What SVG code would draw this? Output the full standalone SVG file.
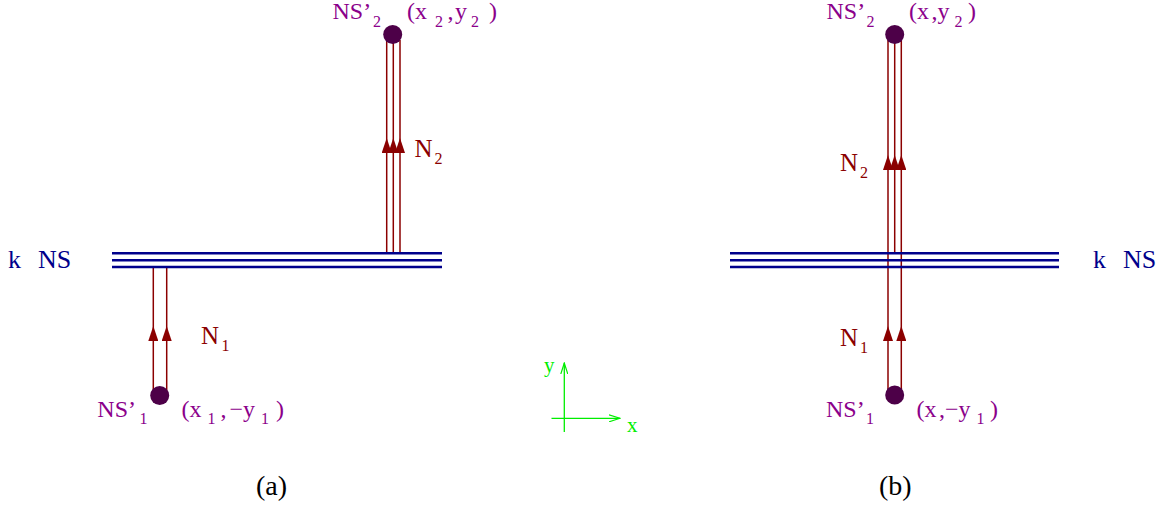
<svg xmlns="http://www.w3.org/2000/svg" width="1167" height="505" viewBox="0 0 1167 505">
<style>
text{font-family:"Liberation Serif","Times New Roman",serif;}
.blue{stroke:#00008b;stroke-width:2.6;fill:none;}
.bt{fill:#00008b;font-size:26px;}
.red{stroke:#8b0000;stroke-width:1.5;fill:none;}
.rt{fill:#8b0000;font-size:25px;}
.pt{fill:#8b008b;font-size:24px;}
.sub{font-size:16px;}
.dot{fill:#4d0048;}
.grn{stroke:#00ee00;stroke-width:1.3;fill:none;}
.gt{fill:#00ee00;font-size:21px;}
.cap{fill:#000;font-size:28px;}
</style>
<defs>
<marker id="ah" markerUnits="userSpaceOnUse" markerWidth="15" markerHeight="10" refX="15" refY="5" orient="auto">
<path d="M0,0 L15,5 L0,10 z" fill="#8b0000"/>
</marker>
<marker id="oa" markerUnits="userSpaceOnUse" markerWidth="12" markerHeight="8" refX="11" refY="4" orient="auto">
<path d="M0,0.5 L11,4 L0,7.5" fill="none" stroke="#00ee00" stroke-width="1.2"/>
</marker>
</defs>

<g id="connectors">
<polyline class="red" points="386.7,253 386.7,138 386.7,40" marker-mid="url(#ah)"/>
<polyline class="red" points="393.3,253 393.3,138 393.3,40" marker-mid="url(#ah)"/>
<polyline class="red" points="400,253 400,138 400,40" marker-mid="url(#ah)"/>
<polyline class="red" points="153.3,392 153.3,326 153.3,267" marker-mid="url(#ah)"/>
<polyline class="red" points="166.7,392 166.7,326 166.7,267" marker-mid="url(#ah)"/>
<polyline class="red" points="888,392 888,326 888,155 888,40" marker-mid="url(#ah)"/>
<polyline class="red" points="894.7,253 894.7,155 894.7,40" marker-mid="url(#ah)"/>
<polyline class="red" points="901.3,392 901.3,326 901.3,155 901.3,40" marker-mid="url(#ah)"/>
</g>

<g id="kns-a">
<line class="blue" x1="112" y1="253.3" x2="442" y2="253.3"/>
<line class="blue" x1="112" y1="260.2" x2="442" y2="260.2"/>
<line class="blue" x1="112" y1="267" x2="442" y2="267"/>
<text class="bt" x="8" y="268">k</text>
<text class="bt" x="38" y="268">NS</text>
</g>

<g id="kns-b">
<line class="blue" x1="730" y1="253.3" x2="1059" y2="253.3"/>
<line class="blue" x1="730" y1="260.2" x2="1059" y2="260.2"/>
<line class="blue" x1="730" y1="267" x2="1059" y2="267"/>
<text class="bt" x="1093" y="268">k</text>
<text class="bt" x="1123" y="268">NS</text>
</g>

<g id="ns2-a">
<circle class="dot" cx="392.7" cy="34.5" r="9.5"/>
<text class="pt" x="332.5" y="19">NS’<tspan class="sub" x="373" y="27">2</tspan></text>
<text class="pt" y="19"><tspan x="407">(x</tspan><tspan class="sub" x="435" y="27">2</tspan><tspan x="447.5" y="19">,</tspan><tspan x="455">y</tspan><tspan class="sub" x="471" y="27">2</tspan><tspan x="489" y="19">)</tspan></text>
</g>

<g id="n2-a-label">
<text class="rt" x="414.5" y="157">N<tspan class="sub" x="434.5" y="164">2</tspan></text>
</g>

<g id="ns1-a">
<circle class="dot" cx="159.7" cy="395.5" r="9.5"/>
<text class="pt" x="97.3" y="417">NS’<tspan class="sub" x="139.5" y="424">1</tspan></text>
<text class="pt" y="417"><tspan x="181.5">(x</tspan><tspan class="sub" x="207.5" y="424">1</tspan><tspan x="220.5" y="417">,</tspan><tspan x="229.5">−y</tspan><tspan class="sub" x="261" y="424">1</tspan><tspan x="276" y="417">)</tspan></text>
</g>

<g id="n1-a-label">
<text class="rt" x="201" y="344">N<tspan class="sub" x="221.5" y="351">1</tspan></text>
</g>

<g id="ns2-b">
<circle class="dot" cx="894.7" cy="34.5" r="9.5"/>
<text class="pt" x="826.5" y="19">NS’<tspan class="sub" x="866.5" y="27">2</tspan></text>
<text class="pt" y="19"><tspan x="909">(x</tspan><tspan x="931.5">,y</tspan><tspan class="sub" x="954.5" y="27">2</tspan><tspan x="968" y="19">)</tspan></text>
</g>

<g id="n2-b-label">
<text class="rt" x="840" y="171">N<tspan class="sub" x="860" y="178">2</tspan></text>
</g>

<g id="ns1-b">
<circle class="dot" cx="894.7" cy="395" r="9.5"/>
<text class="pt" x="826" y="417">NS’<tspan class="sub" x="866" y="424">1</tspan></text>
<text class="pt" y="417"><tspan x="916.5">(x</tspan><tspan x="939">,−y</tspan><tspan class="sub" x="976.5" y="424">1</tspan><tspan x="990" y="417">)</tspan></text>
</g>

<g id="n1-b-label">
<text class="rt" x="840" y="346">N<tspan class="sub" x="860" y="353">1</tspan></text>
</g>

<g id="axes">
<line class="grn" x1="564.3" y1="432" x2="564.3" y2="363" marker-end="url(#oa)"/>
<line class="grn" x1="551.5" y1="418.3" x2="620" y2="418.3" marker-end="url(#oa)"/>
<text class="gt" x="544" y="372">y</text>
<text class="gt" x="627" y="432">x</text>
</g>

<g id="captions">
<text class="cap" x="256" y="495">(a)</text>
<text class="cap" x="879" y="495">(b)</text>
</g>
</svg>
